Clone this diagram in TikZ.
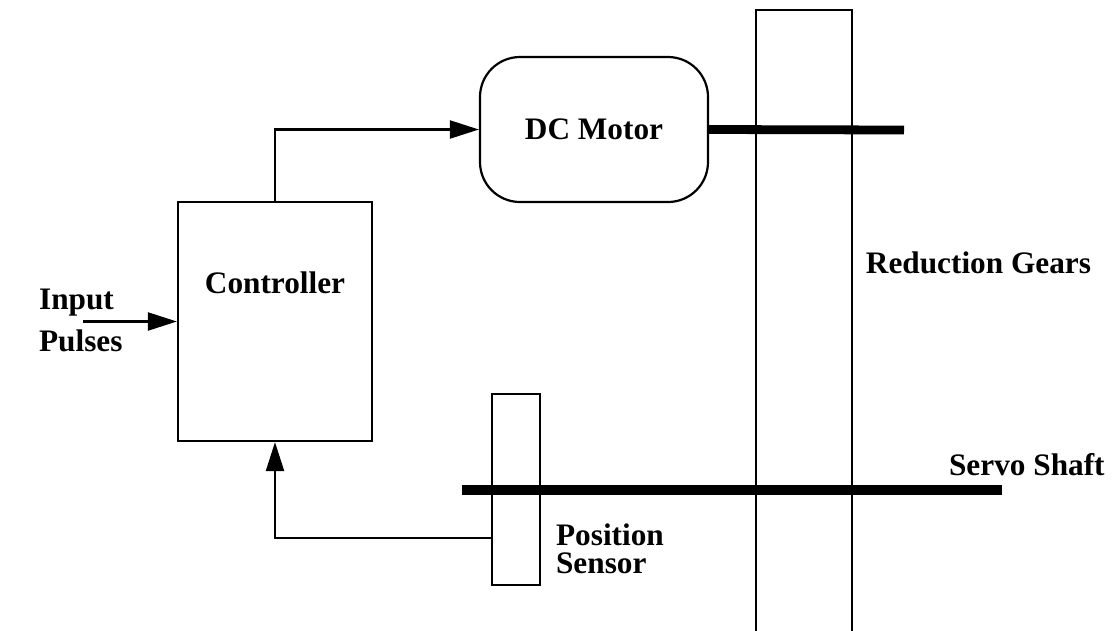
\documentclass[tikz,border=0pt]{standalone}
\usepackage{fontspec}
\setmainfont{Liberation Serif}
\usetikzlibrary{arrows.meta}
\begin{document}
\begin{tikzpicture}[line width=1.25pt,
  box/.style={draw=black,rectangle,inner sep=0pt},
  lbl/.style={font=\fontsize{17.8}{24.4}\selectfont\bfseries,inner sep=0pt},
  shaft/.style={line width=5pt},
  sig/.style={-{Triangle[length=0.58cm,width=0.36cm]}}]
\useasboundingbox (0,0) rectangle (22.24,-12.6);
\clip (0,0) rectangle (22.24,-12.6);
\node[box,minimum width=3.88cm,minimum height=4.78cm] (ctrl) at (5.5,-6.43) {};
\node[box,rounded corners=0.8cm,minimum width=4.56cm,minimum height=2.9cm,lbl] (motor) at (11.88,-2.59) {DC Motor};
\node[box,minimum width=1.92cm,minimum height=12.8cm] (gears) at (16.08,-6.6) {};
\node[box,minimum width=0.96cm,minimum height=3.82cm] (sensor) at (10.32,-9.79) {};
\coordinate (mend) at (18.08,-2.6);
\coordinate (sleft) at (9.24,-9.8);
\coordinate (sright) at (20.04,-9.8);
\coordinate (in) at (1.66,-6.43);
\coordinate (fb) at (9.84,-10.76);
\draw[shaft] (motor.east) -- (mend);
\draw[shaft,line width=5.6pt] (sleft) -- (sright);
\draw[sig] (ctrl.north) |- (motor.west);
\draw[sig] (in) -- (ctrl.west);
\draw[sig] (fb) -| (ctrl.south);
\node[lbl,anchor=base] (ctrltxt) at (5.5,-5.86) {Controller};
\node[lbl,anchor=west,align=left] (inlbl) at (0.76,-6.41) {Input\\Pulses};
\node[lbl,anchor=base] (gearlbl) at (19.57,-5.46) {Reduction Gears};
\node[lbl,anchor=base west] (shaftlbl) at (18.96,-9.5) {Servo Shaft};
\node[lbl,font=\fontsize{17.8}{15.9}\selectfont\bfseries,anchor=west,align=left] (senslbl) at (11.1,-10.98) {Position\\Sensor};
\end{tikzpicture}
\end{document}
